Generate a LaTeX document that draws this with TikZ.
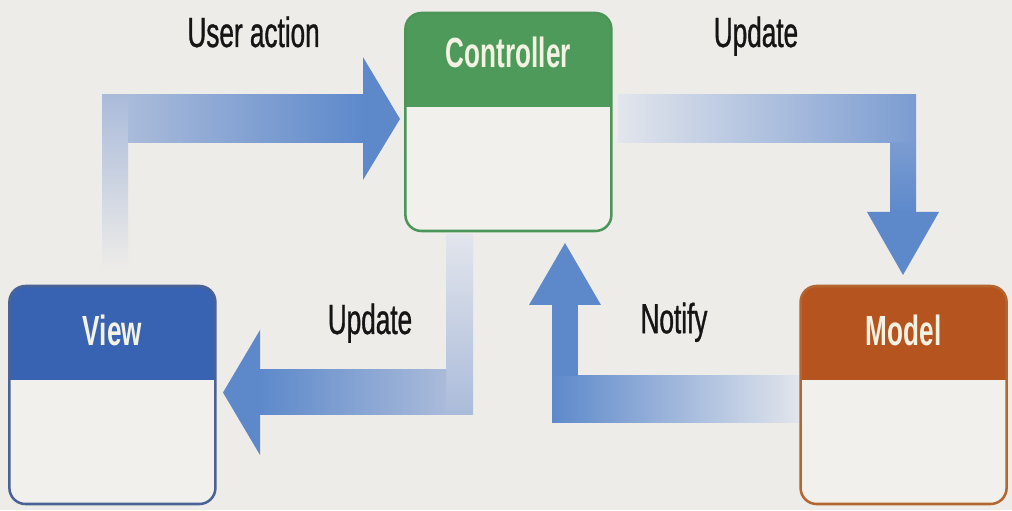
\documentclass[tikz,border=0pt]{standalone}
\usepackage{fontspec}
\newfontfamily\diagfont{Liberation Sans}[FakeStretch=0.62]
\newfontfamily\lblfont{Liberation Sans}[FakeStretch=0.62, FakeBold=0.8]

\definecolor{bgcol}{HTML}{EEECE9}
\definecolor{bodycol}{HTML}{F1F0ED}
\definecolor{ctrlgreen}{HTML}{4E9A5A}
\definecolor{ctrledge}{HTML}{4C9558}
\definecolor{viewblue}{HTML}{3862B2}
\definecolor{viewedge}{HTML}{4A6396}
\definecolor{modelorange}{HTML}{B5541F}
\definecolor{modeledge}{HTML}{B3662F}
\definecolor{arrowdark}{HTML}{5D89CB}
\definecolor{arrowmid}{HTML}{7B9CD1}
\definecolor{arrowlight}{HTML}{AABBDA}
\definecolor{arrowfade}{HTML}{E2E5EC}
\definecolor{titlecol}{HTML}{F4F2E2}
\definecolor{lblcol}{HTML}{151515}

\begin{document}
\begin{tikzpicture}[
    box/.style 2 args={draw=#2, line width=1.8pt, rounded corners=0.4cm, fill=bodycol,
        minimum width=5.15cm, minimum height=5.45cm, inner sep=0pt,
        path picture={\fill[#1, sharp corners] (path picture bounding box.north west)
            rectangle ([yshift=-2.35cm]path picture bounding box.north east);}},
    boxtitle/.style={font=\diagfont\bfseries\fontsize{30}{32}\selectfont, text=titlecol, anchor=base},
    lbl/.style={font=\lblfont\fontsize{30}{32}\selectfont, text=lblcol, anchor=base},
    tipfill/.style={fill=arrowdark},
]
    % Background
    \fill[bgcol] (0,0) rectangle (25.3,12.75);
    \useasboundingbox (0,0) rectangle (25.3,12.75);

    % User action: view -> controller
    \shade[bottom color=bgcol, top color=arrowlight] (2.55,6.0) rectangle (3.2,10.375);
    \shade[left color=arrowlight, right color=arrowdark] (3.2,9.175) rectangle (9.075,10.375);
    \fill[tipfill] (9.075,11.325) -- (10.0,9.775) -- (9.075,8.25) -- cycle;

    % Update: controller -> model
    \shade[left color=arrowfade, right color=arrowmid] (15.45,9.175) rectangle (22.9,10.375);
    \shade[top color=arrowmid, bottom color=arrowdark] (22.25,7.45) rectangle (22.9,9.175);
    \fill[tipfill] (21.675,7.45) -- (22.575,5.875) -- (23.475,7.45) -- cycle;

    % Update: controller -> view
    \shade[top color=arrowfade, bottom color=arrowlight] (11.15,2.375) rectangle (11.825,6.875);
    \shade[left color=arrowdark, right color=arrowlight] (6.5,2.375) rectangle (11.15,3.5);
    \fill[tipfill] (6.5,4.5) -- (5.575,2.9375) -- (6.5,1.375) -- cycle;

    % Notify: model -> controller
    \shade[left color=arrowdark, middle color=arrowmid, right color=arrowfade] (13.8,2.175) rectangle (20.0,3.35);
    \fill[arrowdark] (13.8,3.35) rectangle (14.45,5.125);
    \fill[tipfill] (13.225,5.125) -- (14.125,6.675) -- (15.025,5.125) -- cycle;

    % Boxes
    \foreach \nm/\x/\y/\hc/\ec/\ty/\txt in {
        ctrl/12.71/9.7/ctrlgreen/ctrledge/11.05/Controller,
        view/2.81/2.875/viewblue/viewedge/4.12/View,
        model/22.59/2.875/modelorange/modeledge/4.1/Model} {
        \node[box={\hc}{\ec}] (\nm) at (\x,\y) {};
        \node[boxtitle] (\nm-title) at (\x,\ty) {\txt};
    }

    % Labels
    \node[lbl] (useraction) at (6.34,11.575) {User action};
    \node[lbl] (update-top) at (18.9,11.575) {Update};
    \node[lbl] (update-bot) at (9.25,4.4) {Update};
    \node[lbl] (notify) at (16.85,4.42) {Notify};
\end{tikzpicture}
\end{document}
